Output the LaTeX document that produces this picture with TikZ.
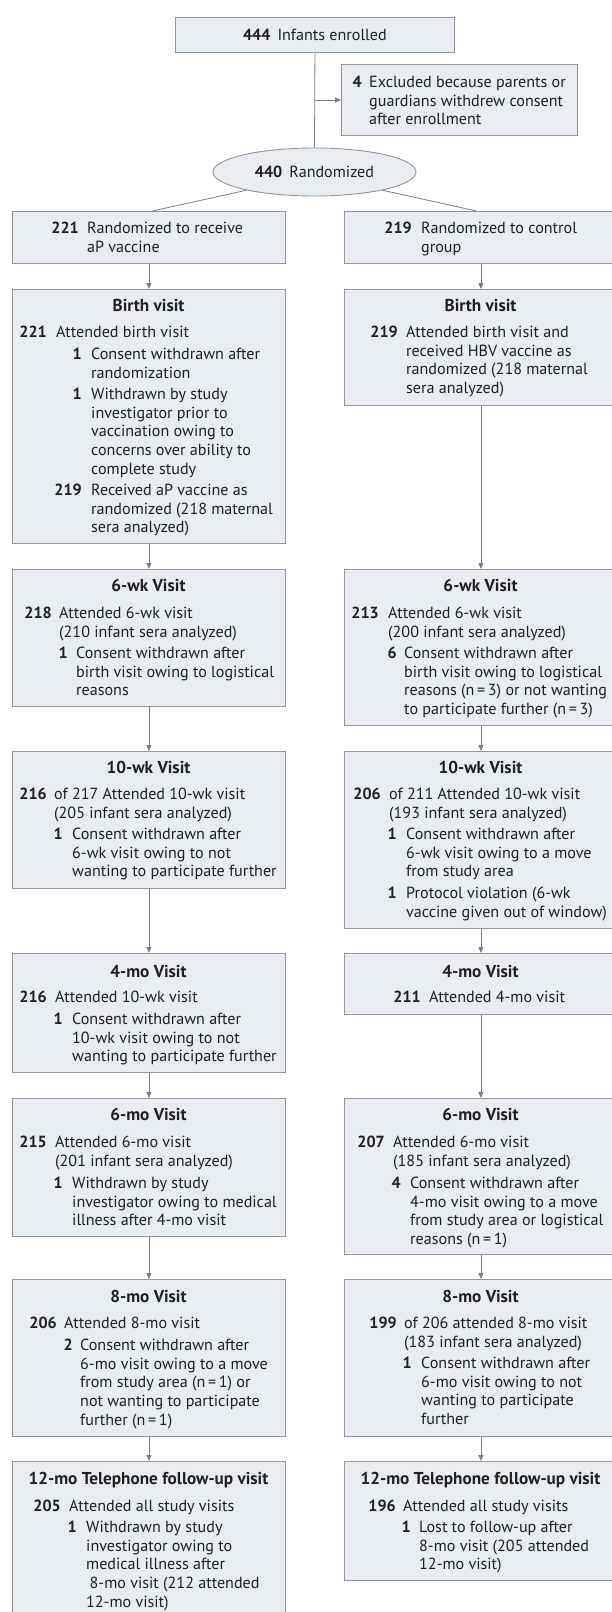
\documentclass[tikz,border=0pt]{standalone}
\usepackage{fontspec}
\setmainfont{PT Sans}
\usetikzlibrary{shapes.geometric,arrows.meta}
\definecolor{boxc}{RGB}{231,237,241}
\definecolor{bordc}{RGB}{150,150,150}
\definecolor{arrc}{RGB}{125,125,125}
\definecolor{textc}{RGB}{35,31,32}
\tikzset{
  box/.style={draw=bordc, fill=boxc, line width=0.9pt, inner sep=0pt, anchor=north west},
  arr/.style={draw=arrc, line width=0.8pt, -{Triangle[length=6pt,width=5pt]}},
  ln/.style={draw=arrc, line width=0.8pt},
  ttl/.style={font=\fontsize{17.2pt}{20pt}\selectfont\bfseries, anchor=base, inner sep=0pt},
  numb/.style={font=\bfseries, anchor=base east, inner sep=0pt},
  txt/.style={anchor=north west, inner sep=0pt, align=left},
}
% #1 name, #2 number right edge, #3 text left edge, #4 first line centre, #5 number, #6 text
\newcommand{\flowitem}[6]{%
  \node[numb] (#1n) at (#2,#4+5) {#5};
  \node[txt] (#1t) at (#3,#4+5-13) {\rule{0pt}{13pt}#6};
}
\begin{document}
\begin{tikzpicture}[x=1pt,y=-1pt]
\fontsize{16.1pt}{18.8pt}\selectfont\color{textc}
\useasboundingbox (0,0) rectangle (612,1612);
\clip (0,0) rectangle (612,1612);

% ---- top part
\node[box, minimum width=279pt, minimum height=35pt] (enr) at (175,17) {{\bfseries 444}\hspace{7pt}Infants enrolled};
\node[box, minimum width=236pt, minimum height=71pt] (excl) at (341,64) {};
\flowitem{ex}{362}{369}{82}{4}{Excluded because parents or\\guardians withdrew consent\\after enrollment}
\node[ellipse, draw=bordc, fill=boxc, line width=0.9pt, inner sep=0pt, minimum width=203pt, minimum height=48pt] (ell) at (314.5,172) {{\bfseries 440}\hspace{7pt}Randomized};

\node[box, minimum width=273pt, minimum height=52pt] (r221) at (12,211) {};
\node[box, minimum width=273pt, minimum height=52pt] (r219) at (344,211) {};
\flowitem{a1}{79}{87}{228}{221}{Randomized to receive\\aP vaccine}
\flowitem{a2}{412}{421}{228}{219}{Randomized to control\\group}

\draw[ln] (enr.south) -- (ell.north);
\draw[arr] (enr.south |- excl.west) -- (excl.west);
\draw[ln] (ell.195) -- ([xshift=3.5pt]r221.north);
\draw[ln] (ell.345) -- ([xshift=-4.5pt]r219.north);

% ---- boxes
\node[box, minimum width=273pt, minimum height=254pt] (bL) at (12,289) {};
\node[box, minimum width=273pt, minimum height=116pt] (bR) at (344,289) {};
\node[box, minimum width=273pt, minimum height=137pt] (w6L) at (12,569) {};
\node[box, minimum width=273pt, minimum height=156pt] (w6R) at (344,569) {};
\node[box, minimum width=273pt, minimum height=137pt] (w10L) at (12,751) {};
\node[box, minimum width=273pt, minimum height=177pt] (w10R) at (344,751) {};
\node[box, minimum width=273pt, minimum height=119pt] (m4L) at (12,953) {};
\node[box, minimum width=273pt, minimum height=61pt] (m4R) at (344,953) {};
\node[box, minimum width=273pt, minimum height=138pt] (m6L) at (12,1098) {};
\node[box, minimum width=273pt, minimum height=156pt] (m6R) at (344,1098) {};
\node[box, minimum width=273pt, minimum height=157pt] (m8L) at (12,1279) {};
\node[box, minimum width=273pt, minimum height=157pt] (m8R) at (344,1279) {};
\node[box, minimum width=273pt, minimum height=160pt] (m12L) at (12,1461) {};
\node[box, minimum width=273pt, minimum height=119pt] (m12R) at (344,1461) {};

% ---- arrows
\draw[arr] (r221.south) -- (bL.north);
\draw[arr] (r219.south) -- (bR.north);
\draw[arr] (bL.south) -- (w6L.north);
\draw[arr] (bR.south) -- (w6R.north);
\draw[arr] (w6L.south) -- (w10L.north);
\draw[arr] (w6R.south) -- (w10R.north);
\draw[arr] (w10L.south) -- (m4L.north);
\draw[arr] (w10R.south) -- (m4R.north);
\draw[arr] (m4L.south) -- (m6L.north);
\draw[arr] (m4R.south) -- (m6R.north);
\draw[arr] (m6L.south) -- (m8L.north);
\draw[arr] (m6R.south) -- (m8R.north);
\draw[arr] (m8L.south) -- (m12L.north);
\draw[arr] (m8R.south) -- (m12R.north);

% ---- titles
\node[ttl] (tbL) at (148.5,311.5) {Birth visit};
\node[ttl] (tbR) at (480.5,311.5) {Birth visit};
\node[ttl] (t6wL) at (148.5,591.5) {6-wk Visit};
\node[ttl] (t6wR) at (480.5,591.5) {6-wk Visit};
\node[ttl] (t10L) at (148.5,773.5) {10-wk Visit};
\node[ttl] (t10R) at (480.5,773.5) {10-wk Visit};
\node[ttl] (t4L) at (148.5,977.5) {4-mo Visit};
\node[ttl] (t4R) at (480.5,977.5) {4-mo Visit};
\node[ttl] (t6mL) at (148.5,1120.5) {6-mo Visit};
\node[ttl] (t6mR) at (480.5,1120.5) {6-mo Visit};
\node[ttl] (t8L) at (148.5,1302.5) {8-mo Visit};
\node[ttl] (t8R) at (480.5,1302.5) {8-mo Visit};
\node[ttl] (t12L) at (148.5,1484.5) {12-mo Telephone follow-up visit};
\node[ttl] (t12R) at (480.5,1484.5) {12-mo Telephone follow-up visit};

% ---- birth
\flowitem{b1}{47}{56}{332}{221}{Attended birth visit}
\flowitem{b2}{82}{91}{354}{1}{Consent withdrawn after\\randomization}
\flowitem{b3}{82}{91}{394}{1}{Withdrawn by study\\investigator prior to\\vaccination owing to\\concerns over ability to\\complete study}
\flowitem{b4}{82}{91}{490}{219}{Received aP vaccine as\\randomized (218 maternal\\sera analyzed)}
\flowitem{b5}{398}{406}{332}{219}{Attended birth visit and\\received HBV vaccine as\\randomized (218 maternal\\sera analyzed)}

% ---- 6 wk
\flowitem{c1}{52}{59}{613}{218}{Attended 6-wk visit\\(210 infant sera analyzed)}
\flowitem{c2}{68}{76}{653}{1}{Consent withdrawn after\\birth visit owing to logistical\\reasons}
\flowitem{c3}{379}{388}{613}{213}{Attended 6-wk visit\\(200 infant sera analyzed)}
\flowitem{c4}{397}{404}{653}{6}{Consent withdrawn after\\birth visit owing to logistical\\reasons (n\,=\,3) or not wanting\\to participate further (n\,=\,3)}

% ---- 10 wk
\flowitem{d1}{47}{54}{794}{216}{of 217 Attended 10-wk visit\\(205 infant sera analyzed)}
\flowitem{d2}{63}{72}{834}{1}{Consent withdrawn after\\6-wk visit owing to not\\wanting to participate further}
\flowitem{d3}{381}{389}{794}{206}{of 211 Attended 10-wk visit\\(193 infant sera analyzed)}
\flowitem{d4}{397}{406}{834}{1}{Consent withdrawn after\\6-wk visit owing to a move\\from study area}
\flowitem{d5}{397}{406}{893}{1}{Protocol violation (6-wk\\vaccine given out of window)}

% ---- 4 mo
\flowitem{e1}{47}{55}{997}{216}{Attended 10-wk visit}
\flowitem{e2}{63}{72}{1019}{1}{Consent withdrawn after\\10-wk visit owing to not\\wanting to participate further}
\flowitem{e3}{421}{429}{997}{211}{Attended 4-mo visit}

% ---- 6 mo
\flowitem{f1}{47}{55}{1142}{215}{Attended 6-mo visit\\(201 infant sera analyzed)}
\flowitem{f2}{63}{72}{1183}{1}{Withdrawn by study\\investigator owing to medical\\illness after 4-mo visit}
\flowitem{f3}{385}{393}{1142}{207}{Attended 6-mo visit\\(185 infant sera analyzed)}
\flowitem{f4}{401}{410}{1183}{4}{Consent withdrawn after\\4-mo visit owing to a move\\from study area or logistical\\reasons (n\,=\,1)}

% ---- 8 mo
\flowitem{g1}{57}{64}{1323}{206}{Attended 8-mo visit}
\flowitem{g2}{73}{80}{1345}{2}{Consent withdrawn after\\6-mo visit owing to a move\\from study area (n\,=\,1) or\\not wanting to participate\\further (n\,=\,1)}
\flowitem{g3}{397}{404}{1323}{199}{of 206 attended 8-mo visit\\(183 infant sera analyzed)}
\flowitem{g4}{412}{421}{1363}{1}{Consent withdrawn after\\6-mo visit owing to not\\wanting to participate\\further}

% ---- 12 mo
\flowitem{h1}{61}{69}{1506}{205}{Attended all study visits}
\flowitem{h2}{77}{86}{1527}{1}{Withdrawn by study\\investigator owing to\\medical illness after\\\hspace*{3.5pt}8-mo visit (212 attended\\12-mo visit)}
\flowitem{h3}{396}{403}{1506}{196}{Attended all study visits}
\flowitem{h4}{411}{419}{1527}{1}{Lost to follow-up after\\8-mo visit (205 attended\\12-mo visit)}
\end{tikzpicture}
\end{document}
